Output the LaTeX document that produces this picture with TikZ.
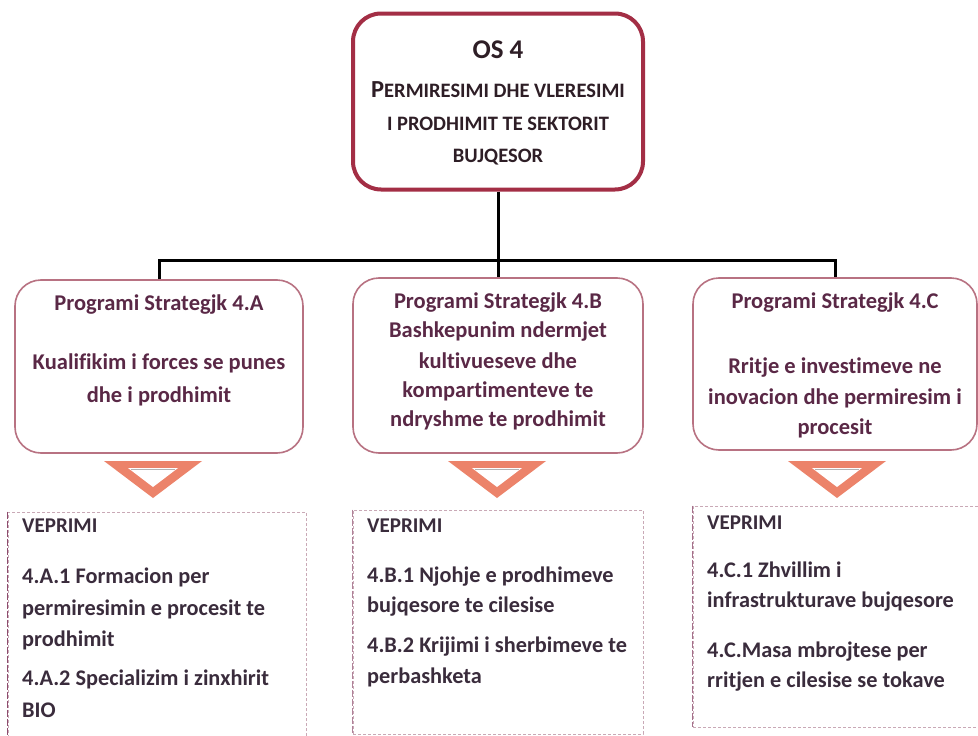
\documentclass[tikz,border=0pt]{standalone}
\usepackage{fontspec}
\setmainfont{Carlito}[Ligatures=NoCommon]
\usetikzlibrary{calc}
\definecolor{topred}{HTML}{A32E45}
\definecolor{progline}{HTML}{B87282}
\definecolor{progtxt}{HTML}{5A2846}
\definecolor{acttxt}{HTML}{3A2C3C}
\definecolor{toptxt}{HTML}{2E1E26}
\definecolor{salmon}{HTML}{EC836A}
\definecolor{dashcol}{HTML}{C9A9B6}
\definecolor{leftcol}{HTML}{8E4C6E}
\begin{document}
\begin{tikzpicture}[x=1pt,y=-1pt,
  topbox/.style={draw=topred,line width=4pt,rounded corners=28pt,minimum width=290pt,minimum height=176pt,inner sep=0pt},
  progbox/.style={draw=progline,line width=1.6pt,rounded corners=26pt,inner sep=0pt},
  actbox/.style={draw=dashcol,line width=0.9pt,dash pattern=on 3pt off 2pt,inner sep=0pt},
  leftedge/.style={draw=leftcol,line width=1.6pt,dash pattern=on 7pt off 2pt},
  conn/.style={draw=black,line width=3pt},
  tri/.style={fill=salmon},
  ptitle/.style={font=\fontsize{22.5}{22.5}\selectfont\bfseries,text=progtxt,inner sep=0pt},
  ptext/.style={font=\fontsize{22.5}{22.5}\selectfont\bfseries,text=progtxt,inner sep=0pt},
  atitle/.style={font=\fontsize{21}{21}\selectfont\bfseries,text=acttxt,anchor=west,inner sep=0pt},
  atext/.style={font=\fontsize{22.3}{22.3}\selectfont\bfseries,text=acttxt,anchor=west,inner sep=0pt},
  ttitle/.style={font=\fontsize{27}{27}\selectfont\bfseries,text=toptxt,inner sep=0pt},
  ttext/.style={font=\fontsize{20.5}{20.5}\selectfont\bfseries,text=toptxt,inner sep=0pt}
]
\useasboundingbox (0,0) rectangle (978,736);
\fill[white] (0,0) rectangle (978,736);

% top box
\node[topbox] (os) at (498,101.5) {};
\node[ttitle] (t0) at (498,50) {OS 4};
\node[ttext] (t1) at (498,90) {{\fontsize{24.5}{24.5}\selectfont P}ERMIRESIMI DHE VLERESIMI};
\node[ttext] (t2) at (498,124) {I PRODHIMIT TE SEKTORIT};
\node[ttext] (t3) at (498,157) {BUJQESOR};

% program boxes
\node[progbox,minimum width=288pt,minimum height=173pt] (pa) at (159,366.5) {};
\node[progbox,minimum width=290pt,minimum height=175pt] (pb) at (498,365.5) {};
\node[progbox,minimum width=284pt,minimum height=172pt] (pc) at (835,364) {};

% connectors
\coordinate (hub) at (498,260);
\draw[conn] (os.south) -- (hub);
\draw[conn] (pa.north) |- (hub) -| (pc.north);
\draw[conn] (hub) -- (pb.north);

% program texts
\node[ptitle] (a0) at (159,305) {Programi Strategjk 4.A};
\node[ptext] (a1) at (159,363) {Kualifikim i forces se punes};
\node[ptext] (a2) at (159,396) {dhe i prodhimit};

\node[ptitle] (b0) at (498,303) {Programi Strategjk 4.B};
\node[ptext] (b1) at (498,332) {Bashkepunim ndermjet};
\node[ptext] (b2) at (498,361) {kultivueseve dhe};
\node[ptext] (b3) at (498,391) {kompartimenteve te};
\node[ptext] (b4) at (498,420) {ndryshme te prodhimit};

\node[ptitle] (c0) at (835,303) {Programi Strategjk 4.C};
\node[ptext] (c1) at (835,368) {Rritje e investimeve ne};
\node[ptext] (c2) at (835,398) {inovacion dhe permiresim i};
\node[ptext] (c3) at (835,428) {procesit};

% triangles
\foreach \n/\cx in {ta/153,tb/497,tc/837}{
  \fill[tri] (\cx-49,461) -- (\cx+49,461) -- (\cx,498) -- cycle;
  \fill[white] (\cx-25,468) -- (\cx+25,468) -- (\cx,487) -- cycle;
  \draw[gray!60,line width=0.8pt] (\cx-22,469.5) -- (\cx+22,469.5);
}

% action boxes
\node[actbox,minimum width=298pt,minimum height=236pt] (xa) at (157,630) {};
\node[actbox,minimum width=290pt,minimum height=224pt] (xb) at (498,622) {};
\node[actbox,minimum width=292pt,minimum height=221pt] (xc) at (839,616.5) {};
\draw[leftedge] (xa.north west) -- (xa.south west);
\draw[leftedge,draw=leftcol!70] (xb.north west) -- (xb.south west);
\draw[leftedge,draw=leftcol!80] (xc.north west) -- (xc.south west);

\node[atitle] (va) at (22,526) {VEPRIMI};
\node[atext] (va1) at (22,577) {4.A.1 Formacion per};
\node[atext] (va2) at (22,609) {permiresimin e procesit te};
\node[atext] (va3) at (22,640) {prodhimit};
\node[atext] (va4) at (22,679) {4.A.2 Specializim i zinxhirit};
\node[atext] (va5) at (22,710) {BIO};

\node[atitle] (vb) at (367,526) {VEPRIMI};
\node[atext] (vb1) at (367,577) {4.B.1 Njohje e prodhimeve};
\node[atext] (vb2) at (367,607) {bujqesore te cilesise};
\node[atext] (vb3) at (367,647) {4.B.2 Krijimi i sherbimeve te};
\node[atext] (vb4) at (367,677) {perbashketa};

\node[atitle] (vc) at (707,523) {VEPRIMI};
\node[atext] (vc1) at (707,570) {4.C.1 Zhvillim i};
\node[atext] (vc2) at (707,602) {infrastrukturave bujqesore};
\node[atext] (vc3) at (707,652) {4.C.Masa mbrojtese per};
\node[atext] (vc4) at (707,682) {rritjen e cilesise se tokave};
\end{tikzpicture}
\end{document}
